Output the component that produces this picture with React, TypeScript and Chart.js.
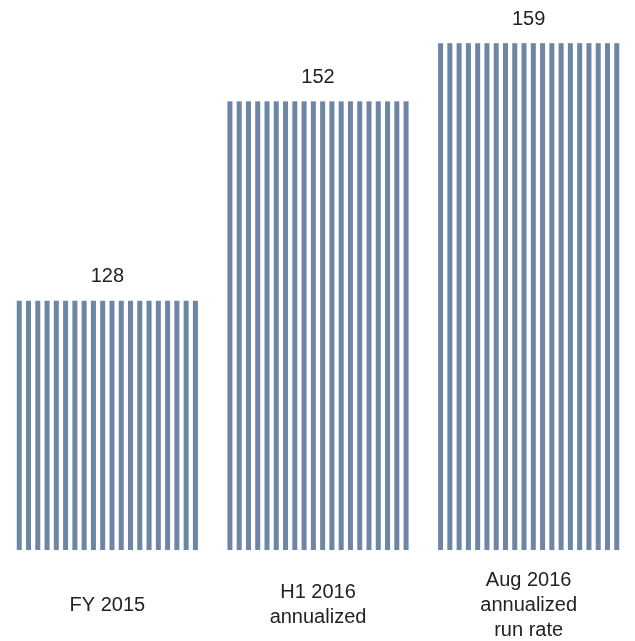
import React, { useEffect, useRef } from "react";
import { Chart, registerables } from "chart.js";

Chart.register(...registerables);

const categories: (string | string[])[] = [
  "FY 2015",
  ["H1 2016", "annualized"],
  ["Aug 2016", "annualized", "run rate"],
];
const values: number[] = [128, 152, 159];
const axisMin = 98;
const axisMax = 164.2;

const BAR_COLOR = "#6e86a5";
const TEXT_COLOR = "#222222";
const FONT_FAMILY = "'Liberation Sans', Arial, sans-serif";

const stripePlugin = {
  id: "stripes",
  afterDatasetsDraw(chart: any) {
    const ctx = chart.ctx;
    const meta = chart.getDatasetMeta(0);
    ctx.save();
    meta.data.forEach((el: any, i: number) => {
      const props = el.getProps(["x", "y", "base", "width"], true);
      const left = props.x - props.width / 2;
      const w = props.width;
      const sw = 5;
      const period = 9.4;
      const n = Math.max(2, Math.round((w - sw) / period) + 1);
      const step = (w - sw) / (n - 1);
      ctx.fillStyle = BAR_COLOR;
      for (let k = 0; k < n; k++) {
        ctx.fillRect(left + k * step, props.y, sw, props.base - props.y);
      }
      ctx.fillStyle = TEXT_COLOR;
      ctx.font = `20px ${FONT_FAMILY}`;
      ctx.textAlign = "center";
      ctx.textBaseline = "middle";
      ctx.fillText(String(values[i]), props.x, props.y - 24);
    });
    ctx.restore();
  },
};

export default function App() {
  const ref = useRef<HTMLCanvasElement | null>(null);
  useEffect(() => {
    if (!ref.current) return;
    const chart = new Chart(ref.current, {
      type: "bar",
      data: {
        labels: categories,
        datasets: [
          {
            data: values,
            backgroundColor: "rgba(0,0,0,0)",
            borderWidth: 0,
            base: axisMin,
            barPercentage: 0.86,
            categoryPercentage: 1,
          },
        ],
      },
      options: {
        animation: false,
        responsive: true,
        maintainAspectRatio: false,
        layout: { padding: { left: 2, right: 1, top: 0, bottom: 0 } },
        plugins: {
          legend: { display: false },
          tooltip: { enabled: false },
        },
        scales: {
          x: {
            grid: { display: false, drawTicks: false },
            border: { display: false },
            afterFit(scale: any) {
              scale.height = 91;
            },
            ticks: {
              color: TEXT_COLOR,
              font: { family: FONT_FAMILY, size: 20, lineHeight: 1.25 },
              padding: 30,
              crossAlign: "center",
              maxRotation: 0,
              autoSkip: false,
            },
          },
          y: {
            display: false,
            min: axisMin,
            max: axisMax,
          },
        },
      },
      plugins: [stripePlugin],
    });
    return () => chart.destroy();
  }, []);
  return (
    <div
      style={{
        position: "fixed",
        left: 0,
        top: 0,
        width: 635,
        height: 641,
        background: "#ffffff",
      }}
    >
      <canvas ref={ref} />
    </div>
  );
}
